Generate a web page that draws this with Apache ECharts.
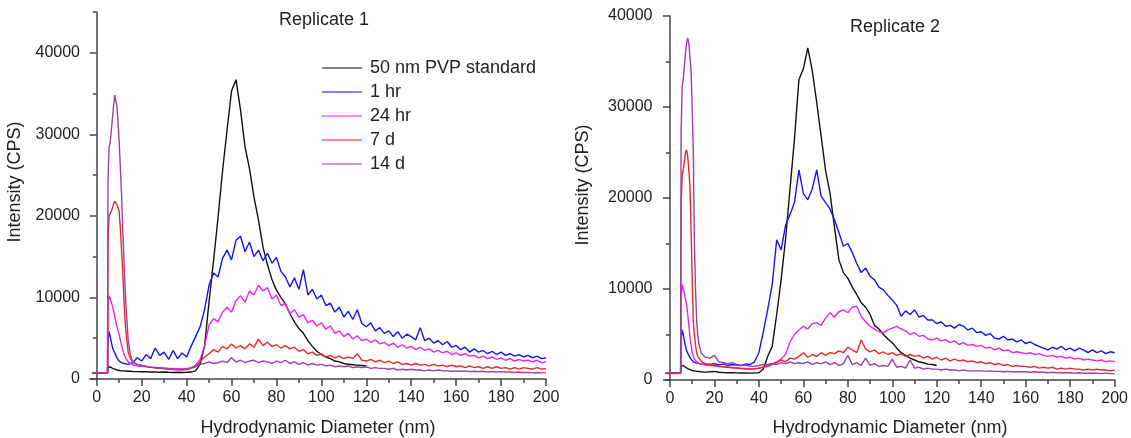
<!DOCTYPE html>
<html><head><meta charset="utf-8">
<script src="https://cdn.jsdelivr.net/npm/echarts@6/dist/echarts.min.js"></script>
<style>html,body{margin:0;padding:0;background:#fff}#c{width:1131px;height:438px}</style>
</head><body><div id="c"></div>
<script>
// Hydrodynamic diameter (nm) sampling positions
const diameters = [-2, 4.8, 5, 5.5, 6, 6.5, 7, 7.5, 8, 8.5, 9, 9.5, 10, 10.5, 11, 11.5, 12, 12.5, 13, 14, 15, 16,
  18, 20, 22, 24, 26, 28, 30, 32, 34, 36,
  38, 40, 42, 44, 46, 48, 50, 52, 54, 56,
  58, 60, 62, 64, 66, 68, 70, 72, 74, 76,
  78, 80, 82, 84, 86, 88, 90, 92, 94, 96,
  98, 100, 102, 104, 106, 108, 110, 112, 114, 116,
  118, 120, 122, 124, 126, 128, 130, 132, 134, 136,
  138, 140, 142, 144, 146, 148, 150, 152, 154, 156,
  158, 160, 162, 164, 166, 168, 170, 172, 174, 176,
  178, 180, 182, 184, 186, 188, 190, 192, 194, 196,
  198, 200];

const seriesNames = ['50 nm PVP standard', '1 hr', '24 hr', '7 d', '14 d'];
const seriesColors = ['#111111', '#1414f0', '#ee22ee', '#e62a2a', '#9c40a6'];
const xTickLabels = [0, 20, 40, 60, 80, 100, 120, 140, 160, 180, 200];
const xMinorTicks = [10, 30, 50, 70, 90, 110, 130, 150, 170, 190];
const yTickLabels = [0, 10000, 20000, 30000, 40000];

// ---------------- Replicate 1 ----------------
const rep1_pvp = [750, 760, 1400, 1600, 1500, 1400, 1300, 1250, 1200, 1150, 1100, 1100, 1050, 1050, 1000, 1000, 1000, 980, 980, 950, 950, 920,
  900, 880, 900, 850, 870, 830, 850, 820, 800, 820,
  800, 820, 850, 1000, 1800, 4000, 9500, 14500, 19800, 25500,
  30500, 35300, 36700, 33000, 28500, 25800, 22300, 19500, 16200, 14000,
  12200, 10900, 10000, 9200, 8000, 7000, 6200, 5600, 4700, 4000,
  3400, 3000, 2700, 2500, 2200, 2100, 1900, 1800, 1750, 1700,
  1650, 1600];
const rep1_1hr = [750, 760, 4800, 5800, 5200, 4500, 3900, 3500, 3200, 2900, 2600, 2400, 2200, 2100, 2000, 1950, 1900, 1900, 1850, 1800, 1900, 2000,
  2600, 2200, 3000, 2500, 3800, 2900, 3300, 2400, 3500, 2500,
  3200, 2700, 4000, 5200, 6400, 8500, 11500, 13000, 12500, 14800,
  15800, 14600, 17000, 17500, 15600, 16800, 15000, 15800, 14500, 15400,
  14200, 14900, 13200, 12500, 11300, 12400, 11000, 13400, 10300, 11000,
  9800, 10300, 9000, 9300, 8200, 8800, 7600, 8300, 7300, 8500,
  6800, 6400, 6900, 5900, 6300, 5600, 5900, 5200, 5800, 5000,
  5500, 5200, 4800, 6300, 4700, 5000, 4400, 4700, 4200, 4600,
  3900, 4100, 3600, 3900, 3300, 3700, 3300, 3500, 3100, 3400,
  3000, 3300, 2900, 3100, 2800, 3000, 2700, 2900, 2600, 2800,
  2500, 2600];
const rep1_24hr = [750, 760, 9000, 10200, 9900, 9400, 8900, 8400, 7700, 7000, 6400, 5900, 5400, 4800, 4200, 3700, 3200, 2800, 2500, 2100, 1900, 1750,
  1600, 1550, 1500, 1450, 1420, 1380, 1350, 1300, 1280, 1250,
  1230, 1250, 1350, 1700, 2400, 4000, 6600, 7400, 7000, 8200,
  8800, 8200, 9600, 10200, 9400, 10800, 10300, 11500, 10800, 11200,
  9800, 10300, 9000, 9300, 8000, 8500, 7600, 7900, 6900, 7200,
  6500, 6900, 6100, 6500, 5600, 5900, 5200, 5600, 4900, 5300,
  4700, 4900, 4500, 4800, 4300, 4500, 4100, 4400, 3900, 4200,
  3800, 4000, 3600, 3900, 3500, 3700, 3300, 3500, 3200, 3400,
  3000, 3200, 2900, 3100, 2800, 2900, 2600, 2800, 2500, 2700,
  2400, 2600, 2300, 2500, 2200, 2400, 2200, 2300, 2100, 2300,
  2000, 2100];
const rep1_7d = [750, 760, 17000, 20000, 20300, 20600, 21000, 21500, 21800, 21600, 21400, 21200, 20500, 18500, 16000, 13500, 10500, 7500, 5800, 3300, 2500, 2100,
  1800, 1650, 1550, 1450, 1350, 1300, 1250, 1200, 1150, 1120,
  1100, 1150, 1300, 1500, 2100, 2700, 3100, 3600, 3300, 4000,
  3700, 4300, 3800, 4100, 3700, 4300, 3900, 4900, 4100, 4500,
  4000, 4200, 3800, 4100, 3700, 3900, 3400, 3600, 3100, 3300,
  2900, 3100, 2700, 2900, 2600, 2800, 2500, 2700, 2500, 3100,
  2300, 2200, 2400, 2100, 2300, 2000, 2200, 1900, 2100, 1800,
  1900, 1700, 1900, 1700, 1800, 1600, 1800, 1600, 1700, 1500,
  1700, 1500, 1600, 1400, 1600, 1400, 1500, 1300, 1500, 1300,
  1500, 1300, 1400, 1200, 1400, 1200, 1400, 1300, 1200, 1400,
  1200, 1300];
const rep1_14d = [700, 720, 24000, 28500, 29000, 30500, 32000, 33500, 34800, 34900, 33500, 31500, 29000, 26000, 23000, 19000, 15500, 12000, 9000, 4800, 2900, 2100,
  1800, 1650, 1550, 1450, 1400, 1350, 1300, 1250, 1220, 1200,
  1200, 1250, 1400, 1600, 1800, 1900, 2100, 1900, 2000, 2200,
  2000, 2600, 2100, 2300, 2000, 2200, 2300, 2000, 2200, 2100,
  1900, 2200, 2000, 2300, 1900, 2100, 1800, 2000, 1700, 1900,
  1700, 1800, 1600, 1700, 1500, 1600, 1500, 1600, 1400, 1500,
  1400, 1500, 1300, 1400, 1300, 1300, 1200, 1300, 1100, 1200,
  1100, 1200, 1100, 1100, 1000, 1100, 1000, 1100, 1000, 1000,
  950, 1000, 950, 1000, 900, 950, 900, 950, 850, 900,
  850, 900, 850, 850, 800, 850, 800, 800, 750, 800,
  750, 750];

// ---------------- Replicate 2 ----------------
const rep2_pvp = [750, 760, 1500, 1700, 1600, 1500, 1400, 1300, 1250, 1200, 1150, 1100, 1050, 1000, 1000, 980, 950, 950, 930, 900, 880, 870,
  900, 950, 850, 820, 800, 790, 780, 770, 770, 760,
  780, 800, 1200, 2600, 3700, 7200, 11000, 15500, 21000, 26500,
  33000, 34200, 36500, 34000, 30500, 26800, 23000, 20500, 16800, 13200,
  11800, 11200, 10200, 9400, 8500, 8000, 7200, 6000, 5600, 5000,
  4500, 4100, 3500, 3000, 2700, 2400, 2200, 2000, 1900, 1750,
  1700, 1600];
const rep2_1hr = [750, 760, 4500, 5500, 5000, 4300, 3700, 3200, 3000, 2700, 2500, 2300, 2100, 2000, 2000, 1900, 1900, 1850, 1800, 1750, 1750, 1700,
  1700, 1800, 1650, 1750, 1600, 1700, 1650, 1600, 1750, 1700,
  2000, 3000, 5300, 7800, 10500, 15400, 14300, 17000, 18200, 19500,
  23100, 20500, 19800, 21000, 23100, 20200, 19500, 18800, 17600, 16200,
  14700, 15000, 14000, 12800, 11800, 12300, 11400, 11000, 10200, 9900,
  9300, 8800, 8200, 7000, 7600, 7200, 7700, 6900, 7100, 6600,
  6600, 6200, 6400, 5900, 6000, 5700, 6100, 5900, 5500, 5700,
  5200, 5300, 4900, 5100, 4600, 4500, 4800, 4400, 4500, 4200,
  4400, 4000, 4200, 3900, 3700, 3500, 3300, 3600, 3400, 3700,
  3300, 3500, 3200, 3500, 3300, 3000, 3300, 3000, 3200, 2900,
  3100, 3000];
const rep2_24hr = [750, 760, 9000, 10500, 10000, 9500, 8900, 8300, 7200, 6000, 4800, 3800, 3000, 2600, 2300, 2100, 2000, 1900, 1850, 1750, 1700, 1650,
  1600, 1550, 1500, 1450, 1400, 1380, 1350, 1300, 1280, 1250,
  1250, 1300, 1400, 1600, 1800, 2000, 2300, 2800, 4200, 5000,
  5500, 5900, 5600, 6200, 6300, 6000, 6800, 7400, 6900, 7500,
  7700, 7400, 8000, 8100, 7000, 6400, 5900, 5600, 5300, 5200,
  5500, 5700, 5900, 5600, 5400, 5000, 5200, 4800, 4900, 4500,
  4400, 4600, 4300, 4400, 4100, 4300, 3900, 4100, 3800, 3900,
  3700, 3800, 3500, 3600, 3300, 3500, 3200, 3300, 3000, 3100,
  3000, 2900, 3000, 2800, 2900, 2700, 2600, 2700, 2500, 2600,
  2400, 2500, 2300, 2400, 2200, 2300, 2200, 2100, 2200, 2000,
  2100, 2000];
const rep2_7d = [750, 760, 19000, 22500, 23100, 24000, 25000, 25300, 24500, 23000, 21300, 16500, 11000, 6500, 5000, 3800, 3000, 2600, 2400, 2100, 1900, 1800,
  1700, 1600, 1500, 1450, 1400, 1350, 1300, 1250, 1200, 1200,
  1200, 1300, 1400, 1500, 1700, 1900, 2200, 2000, 2400, 2300,
  2600, 3000, 2500, 2800, 2600, 3000, 2700, 3000, 2900, 3200,
  3000, 3600, 3300, 3000, 4400, 3400, 3100, 3300, 2900, 3100,
  2800, 3000, 2700, 2900, 2600, 2800, 2600, 2700, 2400, 2600,
  2300, 2500, 2200, 2400, 2100, 2300, 2100, 2200, 2000, 2100,
  1900, 2000, 1800, 1900, 1700, 1800, 1600, 1700, 1500, 1600,
  1500, 1500, 1400, 1500, 1300, 1400, 1300, 1400, 1200, 1300,
  1200, 1300, 1200, 1200, 1100, 1200, 1100, 1200, 1100, 1100,
  1000, 1100];
const rep2_14d = [700, 720, 27000, 32300, 33000, 34500, 36000, 37000, 37600, 37000, 35500, 34000, 30000, 24900, 15000, 10000, 6600, 5000, 4000, 3000, 2700, 2500,
  2400, 2700, 2000, 1900, 1800, 1900, 1700, 1600, 1650, 1500,
  1500, 1600, 1700, 1700, 1800, 1700, 1900, 1800, 2000, 1800,
  1900, 1800, 2000, 1700, 1900, 1800, 2000, 1700, 1900, 1600,
  1800, 2700, 1700, 1900, 1600, 2400, 1600, 1800, 1500, 1600,
  1500, 2300, 1400, 1500, 1300, 2200, 1300, 1400, 1200, 1300,
  1200, 1200, 1100, 1200, 1100, 1100, 1000, 1100, 1000, 1000,
  1000, 1000, 950, 1000, 950, 950, 900, 950, 900, 900,
  900, 900, 850, 900, 850, 850, 800, 850, 800, 800,
  800, 800, 750, 800, 750, 750, 750, 750, 700, 750,
  700, 700];

const rep1 = [rep1_pvp, rep1_1hr, rep1_24hr, rep1_7d, rep1_14d];
const rep2 = [rep2_pvp, rep2_1hr, rep2_24hr, rep2_7d, rep2_14d];

function pairs(vals) { return vals.map((v, i) => [diameters[i], v]); }

const FONT = "'Liberation Sans', Arial, sans-serif";
const TXT = '#222';
const AX = '#444';

function mainX(grid, min) {
  return {
    type: 'value', gridIndex: grid, min: min, max: 200,
    axisLine: { show: true, onZero: false, lineStyle: { color: AX, width: 1.5 } },
    axisTick: { show: true, length: 7, customValues: xTickLabels, lineStyle: { color: AX, width: 1.5 } },
    axisLabel: { customValues: xTickLabels, color: TXT, fontSize: 16, fontFamily: FONT, margin: 11, formatter: v => String(v) },
    splitLine: { show: false }
  };
}
function minorX(grid, min) {
  return {
    type: 'value', gridIndex: grid, min: min, max: 200, position: 'bottom',
    axisLine: { show: false },
    axisTick: { show: true, length: 4, customValues: xMinorTicks, lineStyle: { color: AX, width: 1.5 } },
    axisLabel: { show: false }, splitLine: { show: false }
  };
}
function mainY(grid, max, margin) {
  return {
    type: 'value', gridIndex: grid, min: 0, max: max,
    axisLine: { show: true, lineStyle: { color: AX, width: 1.5 } },
    axisTick: { show: true, length: 7, customValues: yTickLabels, lineStyle: { color: AX, width: 1.5 } },
    axisLabel: { customValues: yTickLabels, color: TXT, fontSize: 16, fontFamily: FONT, margin: margin, formatter: v => String(v) },
    splitLine: { show: false }
  };
}
function minorY(grid, max) {
  return {
    type: 'value', gridIndex: grid, min: 0, max: max, interval: 5000, position: 'left',
    axisLine: { show: false },
    axisTick: { show: true, length: 4, lineStyle: { color: AX, width: 1.5 } },
    axisLabel: { show: false }, splitLine: { show: false }
  };
}

const series = [];
rep1.forEach((vals, k) => series.push({
  name: seriesNames[k], type: 'line', xAxisIndex: 0, yAxisIndex: 0,
  data: pairs(vals), symbol: 'none', showSymbol: false, color: seriesColors[k],
  lineStyle: { width: 1.4, color: seriesColors[k] }, silent: true
}));
rep2.forEach((vals, k) => series.push({
  name: seriesNames[k], type: 'line', xAxisIndex: 2, yAxisIndex: 2,
  data: pairs(vals), symbol: 'none', showSymbol: false, color: seriesColors[k],
  lineStyle: { width: 1.4, color: seriesColors[k] }, silent: true
}));

const chart = echarts.init(document.getElementById('c'), null, { renderer: 'canvas' });
chart.setOption({
  animation: false,
  backgroundColor: '#fff',
  grid: [
    { left: 90, top: 12, width: 456, height: 367 },
    { left: 665.5, top: 16, width: 450, height: 364 }
  ],
  xAxis: [mainX(0, -3), minorX(0, -3), mainX(1, -2), minorX(1, -2)],
  yAxis: [mainY(0, 45000, 10), minorY(0, 45000), mainY(1, 40000, 13), minorY(1, 40000)],
  legend: {
    show: true,
    data: seriesNames, orient: 'vertical', left: 322, top: 59, padding: 0,
    icon: 'rect', itemWidth: 40, itemHeight: 1.3, itemGap: 6, selectedMode: false,
    itemStyle: { opacity: 0.7 },
    textStyle: { color: TXT, fontSize: 18, fontFamily: FONT, padding: [0, 0, 0, 3] }
  },
  graphic: [
    { type: 'text', x: 324, y: 20, style: { text: 'Replicate 1', fill: TXT, font: '18px ' + FONT, textAlign: 'center', textVerticalAlign: 'middle' } },
    { type: 'text', x: 895, y: 27, style: { text: 'Replicate 2', fill: TXT, font: '18px ' + FONT, textAlign: 'center', textVerticalAlign: 'middle' } },
    { type: 'text', x: 318, y: 428, style: { text: 'Hydrodynamic Diameter (nm)', fill: TXT, font: '18px ' + FONT, textAlign: 'center', textVerticalAlign: 'middle' } },
    { type: 'text', x: 890, y: 428, style: { text: 'Hydrodynamic Diameter (nm)', fill: TXT, font: '18px ' + FONT, textAlign: 'center', textVerticalAlign: 'middle' } },
    { type: 'text', x: 15, y: 182, rotation: Math.PI / 2, style: { text: 'Intensity (CPS)', fill: TXT, font: '18px ' + FONT, textAlign: 'center', textVerticalAlign: 'middle' } },
    { type: 'text', x: 583, y: 185, rotation: Math.PI / 2, style: { text: 'Intensity (CPS)', fill: TXT, font: '18px ' + FONT, textAlign: 'center', textVerticalAlign: 'middle' } }
  ],
  series: series
});
</script></body></html>
